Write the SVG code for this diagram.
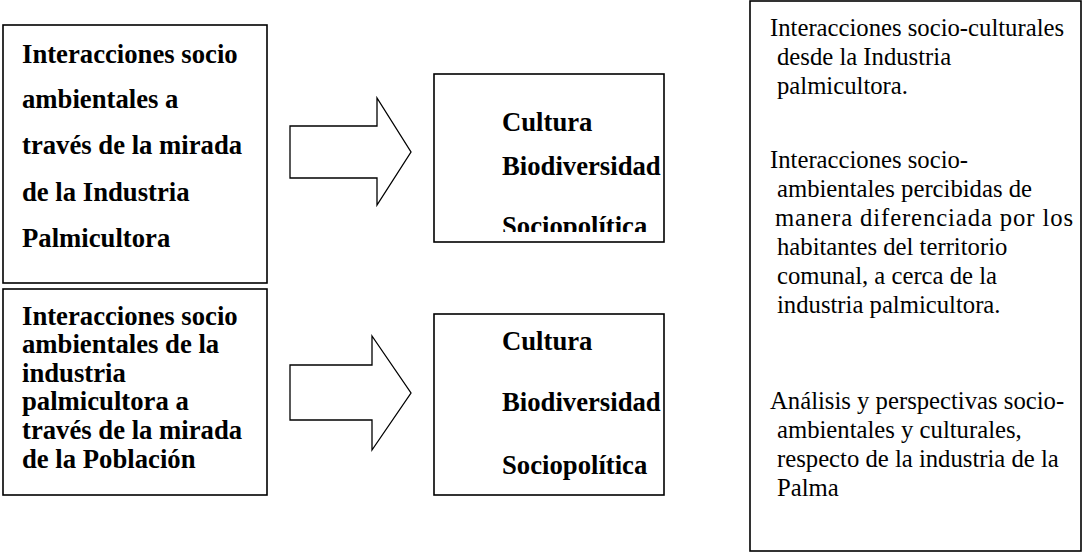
<svg xmlns="http://www.w3.org/2000/svg" width="1083" height="559" viewBox="0 0 1083 559">
<style>
.box{fill:#fff;stroke:#000;stroke-width:1.6}
.arr{fill:#fff;stroke:#000;stroke-width:1.3;stroke-linejoin:miter}
.b{font-family:"Liberation Serif","Times New Roman",serif;font-weight:bold;font-size:26.7px;fill:#000}
.r{font-family:"Liberation Serif","Times New Roman",serif;font-size:24.7px;fill:#000}
</style>
<defs>
<clipPath id="clipMid1"><rect x="434" y="74" width="230" height="158"/></clipPath>
</defs>
<rect width="1083" height="559" fill="#fff"/>
<g id="node-industria">
<rect class="box" x="3" y="25" width="264" height="258"/>
<text class="b" x="22" y="63">Interacciones socio</text>
<text class="b" x="22" y="108">ambientales a</text>
<text class="b" x="22" y="154">través de la mirada</text>
<text class="b" x="22" y="201">de la Industria</text>
<text class="b" x="22" y="247">Palmicultora</text>
</g>
<g id="node-poblacion">
<rect class="box" x="3" y="289" width="264" height="206"/>
<text class="b" x="22" y="324.5">Interacciones socio</text>
<text class="b" x="22" y="353">ambientales de la</text>
<text class="b" x="22" y="381.5">industria</text>
<text class="b" x="22" y="410">palmicultora a</text>
<text class="b" x="22" y="439">través de la mirada</text>
<text class="b" x="22" y="468">de la Población</text>
</g>
<g id="node-dim1">
<rect class="box" x="434" y="74" width="230" height="168"/>
<g clip-path="url(#clipMid1)">
<text class="b" x="502" y="131">Cultura</text>
<text class="b" x="502" y="175">Biodiversidad</text>
<text class="b" x="502" y="235">Sociopolítica</text>
</g>
</g>
<g id="node-dim2">
<rect class="box" x="434" y="314" width="230" height="181"/>
<text class="b" x="502" y="350">Cultura</text>
<text class="b" x="502" y="411">Biodiversidad</text>
<text class="b" x="502" y="474">Sociopolítica</text>
</g>
<g id="node-resultados">
<rect class="box" x="750" y="1" width="331" height="550"/>
<text class="r" x="770" y="36">Interacciones socio-culturales</text>
<text class="r" x="777" y="65">desde la Industria</text>
<text class="r" x="777" y="94">palmicultora.</text>
<text class="r" x="770" y="168">Interacciones socio-</text>
<text class="r" x="777" y="197">ambientales percibidas de</text>
<text class="r" x="775" y="226" textLength="298" lengthAdjust="spacing">manera diferenciada por los</text>
<text class="r" x="777" y="255">habitantes del territorio</text>
<text class="r" x="777" y="284">comunal, a cerca de la</text>
<text class="r" x="777" y="313">industria palmicultora.</text>
<text class="r" x="770" y="409">Análisis y perspectivas socio-</text>
<text class="r" x="777" y="438">ambientales y culturales,</text>
<text class="r" x="777" y="467">respecto de la industria de la</text>
<text class="r" x="777" y="496">Palma</text>
</g>
<g id="connectors">
<polygon class="arr" points="290,126 377,126 377,98 411,152 377,205 377,178 290,178"/>
<polygon class="arr" points="290,365 372,365 372,336 411,393 372,450 372,420 290,420"/>
</g>
</svg>
